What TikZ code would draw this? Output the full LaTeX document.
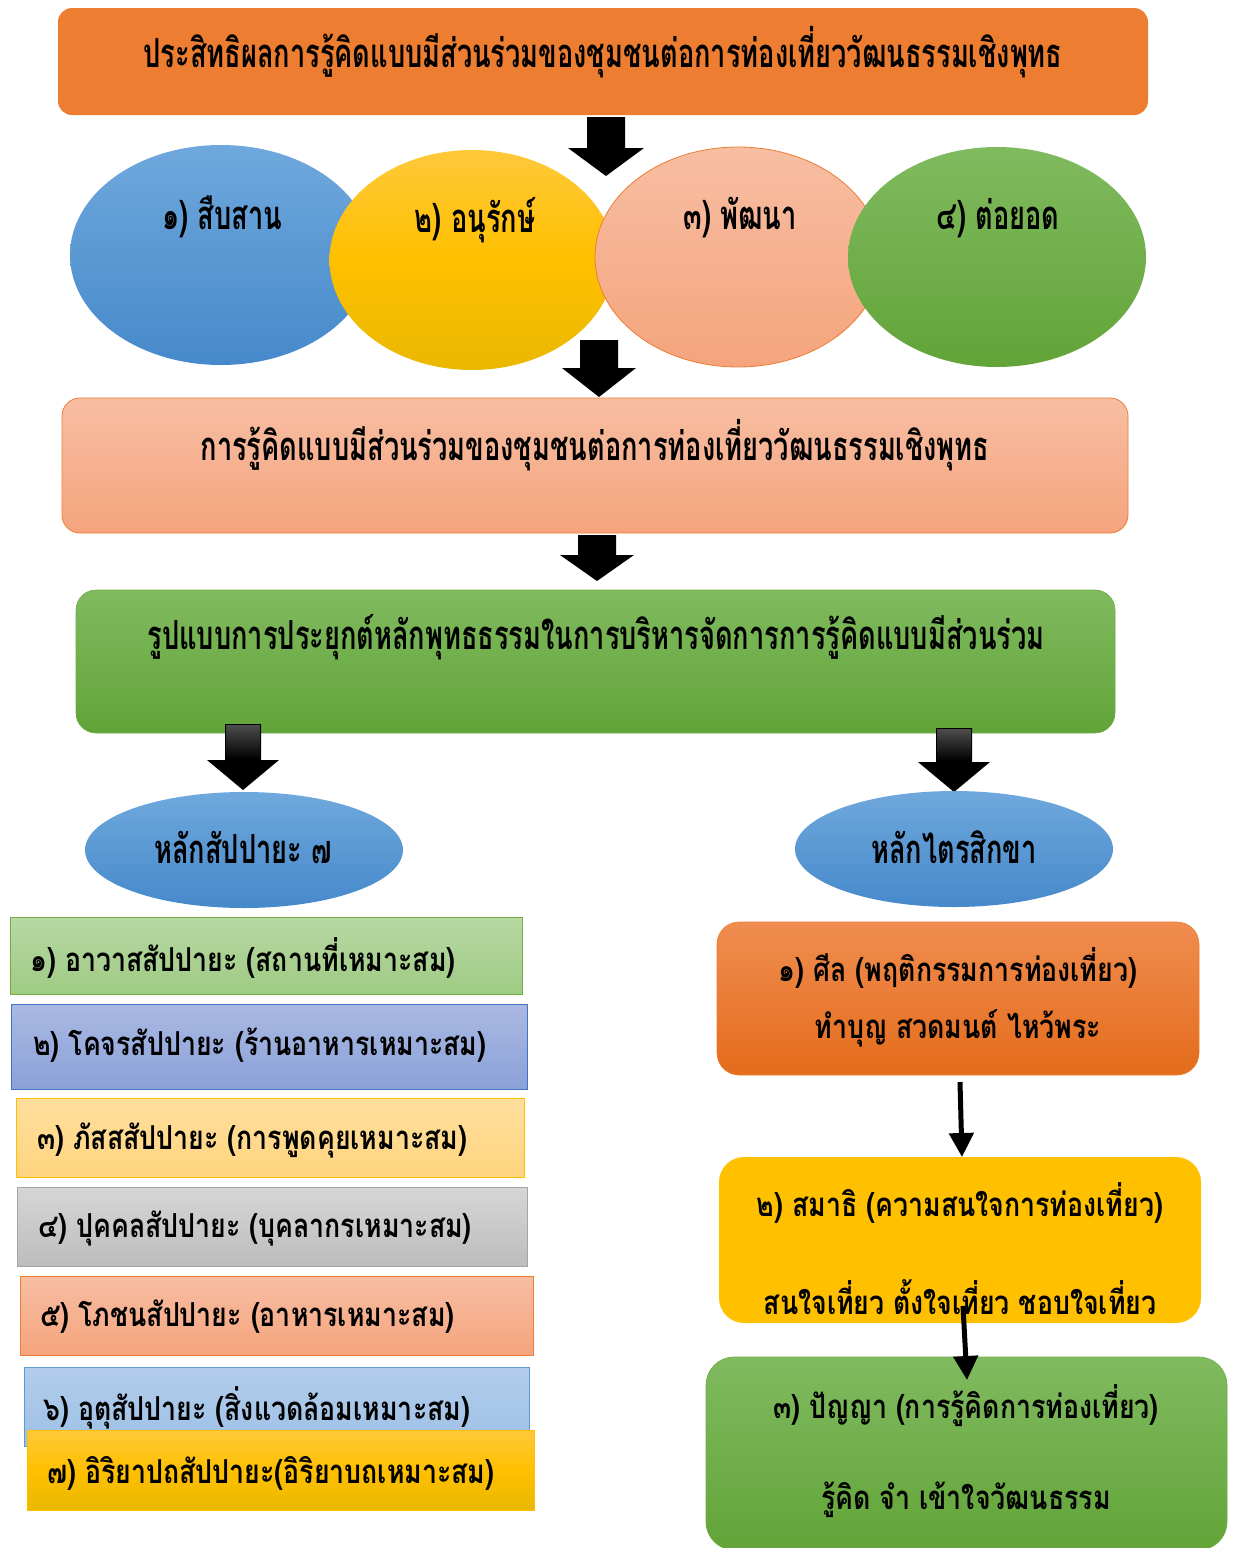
\documentclass[tikz,border=0pt]{standalone}
\usepackage{fontspec}
\usetikzlibrary{arrows.meta,shapes.geometric,calc}
\newfontfamily\thaiC[Script=Thai,FakeStretch=0.68]{Loma}
\newfontfamily\thaiN[Script=Thai,FakeStretch=0.81]{Loma}
\definecolor{cOrange}{HTML}{ED7D31}
\definecolor{cBlueT}{HTML}{6FA8DC}
\definecolor{cBlueB}{HTML}{4689CB}
\definecolor{cYelT}{HTML}{FFC83A}
\definecolor{cYelB}{HTML}{EAB800}
\definecolor{cSalT}{HTML}{F7BEA3}
\definecolor{cSalB}{HTML}{F5A47D}
\definecolor{cGrnT}{HTML}{80BA5F}
\definecolor{cGrnB}{HTML}{62A438}
\definecolor{cGrnBorder}{HTML}{70AD47}
\definecolor{cLgT}{HTML}{B7D8A3}
\definecolor{cLgB}{HTML}{9FCB84}
\definecolor{cLbT}{HTML}{AAB9E2}
\definecolor{cLbB}{HTML}{8AA1D8}
\definecolor{cLbBorder}{HTML}{4472C4}
\definecolor{cPaleT}{HTML}{FFDF9E}
\definecolor{cPaleB}{HTML}{FFD47E}
\definecolor{cGold}{HTML}{FFC000}
\definecolor{cGreyT}{HTML}{D6D6D6}
\definecolor{cGreyB}{HTML}{BDBDBD}
\definecolor{cGreyBorder}{HTML}{A5A5A5}
\definecolor{cSkyT}{HTML}{B3CDEB}
\definecolor{cSkyB}{HTML}{9DC0E6}
\definecolor{cSkyBorder}{HTML}{5B9BD5}
\definecolor{cOrT}{HTML}{F08D50}
\definecolor{cOrB}{HTML}{E46C1B}
\tikzset{
  shp/.style={inner sep=0pt, outer sep=0pt},
  ttl/.style={font=\thaiC\bfseries\fontsize{40}{46}\selectfont, inner sep=0pt},
  ltxt/.style={font=\thaiN\bfseries\fontsize{33}{38}\selectfont, inner sep=0pt, anchor=west},
  rtxt/.style={font=\thaiN\bfseries\fontsize{33}{38}\selectfont, inner sep=0pt},
  thinarrow/.style={line width=5pt, -{Triangle[width=24pt,length=24pt]}},
}
\newcommand\blockarrow[5]{%
  \fill[black] ($(#1)+(-#4,0)$) -- ($(#1)+(#4,0)$) -- ($(#1)+(#4,#2)$) -- ($(#1)+(#5,#2)$)
   -- ($(#1)+(0,#3)$) -- ($(#1)+(-#5,#2)$) -- ($(#1)+(-#4,#2)$) -- cycle;}
\begin{document}
\begin{tikzpicture}[x=1pt,y=-1pt]
\useasboundingbox (0,0) rectangle (1235,1548);
% title
\node[shp, rectangle, rounded corners=14pt, fill=cOrange, minimum width=1090, minimum height=107] (title) at (603,61.5) {};
\node[ttl] (titletxt) at (603,52) {ประสิทธิผลการรู้คิดแบบมีส่วนร่วมของชุมชนต่อการท่องเที่ยววัฒนธรรมเชิงพุทธ};
% ellipses
\node[shp, ellipse, top color=cBlueT, bottom color=cBlueB, minimum width=302, minimum height=220] (e1) at (221,255) {};
\node[shp, ellipse, top color=cYelT, bottom color=cYelB, middle color=cGold, minimum width=285, minimum height=220] (e2) at (472,260) {};
\node[shp, ellipse, top color=cSalT, bottom color=cSalB, draw=cOrange, line width=0.8pt, minimum width=286, minimum height=220] (e3) at (738,257) {};
\node[shp, ellipse, top color=cGrnT, bottom color=cGrnB, minimum width=298, minimum height=220] (e4) at (997,257) {};
\node[ttl] (e1t) at (222,217) {๑) สืบสาน};
\node[ttl] (e2t) at (475,220) {๒) อนุรักษ์};
\node[ttl] (e3t) at (740,218) {๓) พัฒนา};
\node[ttl] (e4t) at (998,218) {๔) ต่อยอด};
% arrows top
\coordinate (a1) at (606,117);
\blockarrow{a1}{31}{59}{19}{38}
\coordinate (a2) at (599,340);
\blockarrow{a2}{28}{57}{19}{37}
% salmon box
\node[shp, rectangle, rounded corners=18pt, top color=cSalT, bottom color=cSalB, draw=cOrange, line width=0.8pt, minimum width=1066, minimum height=135] (mid) at (595,465.5) {};
\node[ttl] (midtxt) at (595,445) {การรู้คิดแบบมีส่วนร่วมของชุมชนต่อการท่องเที่ยววัฒนธรรมเชิงพุทธ};
\coordinate (a3) at (597,535);
\blockarrow{a3}{20}{46}{19}{37}
% green box
\node[shp, rectangle, rounded corners=20pt, top color=cGrnT, bottom color=cGrnB, draw=cGrnBorder, line width=0.6pt, minimum width=1039, minimum height=143] (model) at (595.5,661.5) {};
\node[ttl] (modeltxt) at (596,637) {รูปแบบการประยุกต์หลักพุทธธรรมในการบริหารจัดการการรู้คิดแบบมีส่วนร่วม};
% branch arrows
\coordinate (a4) at (243,724);
\blockarrow{a4}{36}{66}{18}{36}
\coordinate (a5) at (954,728);
\blockarrow{a5}{34}{64}{18}{36}
\shade[top color=black!70, bottom color=black] ($(a4)+(-17,1)$) rectangle ($(a4)+(17,35)$);
\shade[top color=black!70, bottom color=black] ($(a5)+(-17,1)$) rectangle ($(a5)+(17,33)$);
% small ellipses
\node[shp, ellipse, top color=cBlueT, bottom color=cBlueB, minimum width=318, minimum height=116] (sap) at (244,850) {};
\node[ttl] (saptxt) at (243,848) {หลักสัปปายะ ๗};
\node[shp, ellipse, top color=cBlueT, bottom color=cBlueB, minimum width=318, minimum height=116] (trai) at (954,849) {};
\node[ttl] (traitxt) at (954,847) {หลักไตรสิกขา};
% left boxes
\node[shp, rectangle, top color=cLgT, bottom color=cLgB, draw=cGrnBorder, line width=1pt, minimum width=512, minimum height=77] (b1) at (266,955.5) {};
\node[ltxt] (b1t) at (30,958) {๑) อาวาสสัปปายะ (สถานที่เหมาะสม)};
\node[shp, rectangle, top color=cLbT, bottom color=cLbB, draw=cLbBorder, line width=1pt, minimum width=516, minimum height=85] (b2) at (269,1046.5) {};
\node[ltxt] (b2t) at (33,1045) {๒) โคจรสัปปายะ (ร้านอาหารเหมาะสม)};
\node[shp, rectangle, top color=cPaleT, bottom color=cPaleB, draw=cGold, line width=1pt, minimum width=508, minimum height=79] (b3) at (270,1137.5) {};
\node[ltxt] (b3t) at (37,1140) {๓) ภัสสสัปปายะ (การพูดคุยเหมาะสม)};
\node[shp, rectangle, top color=cGreyT, bottom color=cGreyB, draw=cGreyBorder, line width=1pt, minimum width=510, minimum height=79] (b4) at (272,1226.5) {};
\node[ltxt] (b4t) at (38,1228) {๔) ปุคคลสัปปายะ (บุคลากรเหมาะสม)};
\node[shp, rectangle, top color=cSalT, bottom color=cSalB, draw=cOrange, line width=1pt, minimum width=513, minimum height=79] (b5) at (276.5,1315.5) {};
\node[ltxt] (b5t) at (40,1317) {๕) โภชนสัปปายะ (อาหารเหมาะสม)};
\node[shp, rectangle, top color=cSkyT, bottom color=cSkyB, draw=cSkyBorder, line width=1pt, minimum width=505, minimum height=79] (b6) at (276.5,1406.5) {};
\node[ltxt] (b6t) at (43,1408) {๖) อุตุสัปปายะ (สิ่งแวดล้อมเหมาะสม)};
\node[shp, rectangle, top color=cYelT, bottom color=cYelB, middle color=cGold, draw=cGold, line width=1pt, minimum width=507, minimum height=80] (b7) at (280.5,1470) {};
\node[ltxt] (b7t) at (47,1473) {๗) อิริยาปถสัปปายะ(อิริยาบถเหมาะสม)};
% right boxes
\node[shp, rectangle, rounded corners=22pt, top color=cOrT, bottom color=cOrB, draw=cOrange, line width=0.6pt, minimum width=482, minimum height=153] (r1) at (958,998.5) {};
\node[rtxt] (r1a) at (958,968) {๑) ศีล (พฤติกรรมการท่องเที่ยว)};
\node[rtxt] (r1b) at (958,1028) {ทำบุญ สวดมนต์ ไหว้พระ};
\node[shp, rectangle, rounded corners=25pt, fill=cGold, minimum width=482, minimum height=166] (r2) at (960,1240) {};
\node[rtxt] (r2a) at (960,1203) {๒) สมาธิ (ความสนใจการท่องเที่ยว)};
\node[rtxt] (r2b) at (960,1297) {สนใจเที่ยว ตั้งใจเที่ยว ชอบใจเที่ยว};
\node[shp, rectangle, rounded corners=28pt, top color=cGrnT, bottom color=cGrnB, draw=cGrnBorder, line width=0.6pt, minimum width=521, minimum height=193] (r3) at (966.5,1453.5) {};
\node[rtxt] (r3a) at (966,1406) {๓) ปัญญา (การรู้คิดการท่องเที่ยว)};
\node[rtxt] (r3b) at (966,1500) {รู้คิด จำ เข้าใจวัฒนธรรม};
% thin arrows
\coordinate (p1) at ($(r1.south)+(2,7)$);
\draw[thinarrow] (p1) -- (r2.north -| 962,0);
\coordinate (p2) at (963,1306);
\coordinate (q2) at (967,1380);
\draw[thinarrow] (p2) -- (q2);
\end{tikzpicture}
\end{document}
